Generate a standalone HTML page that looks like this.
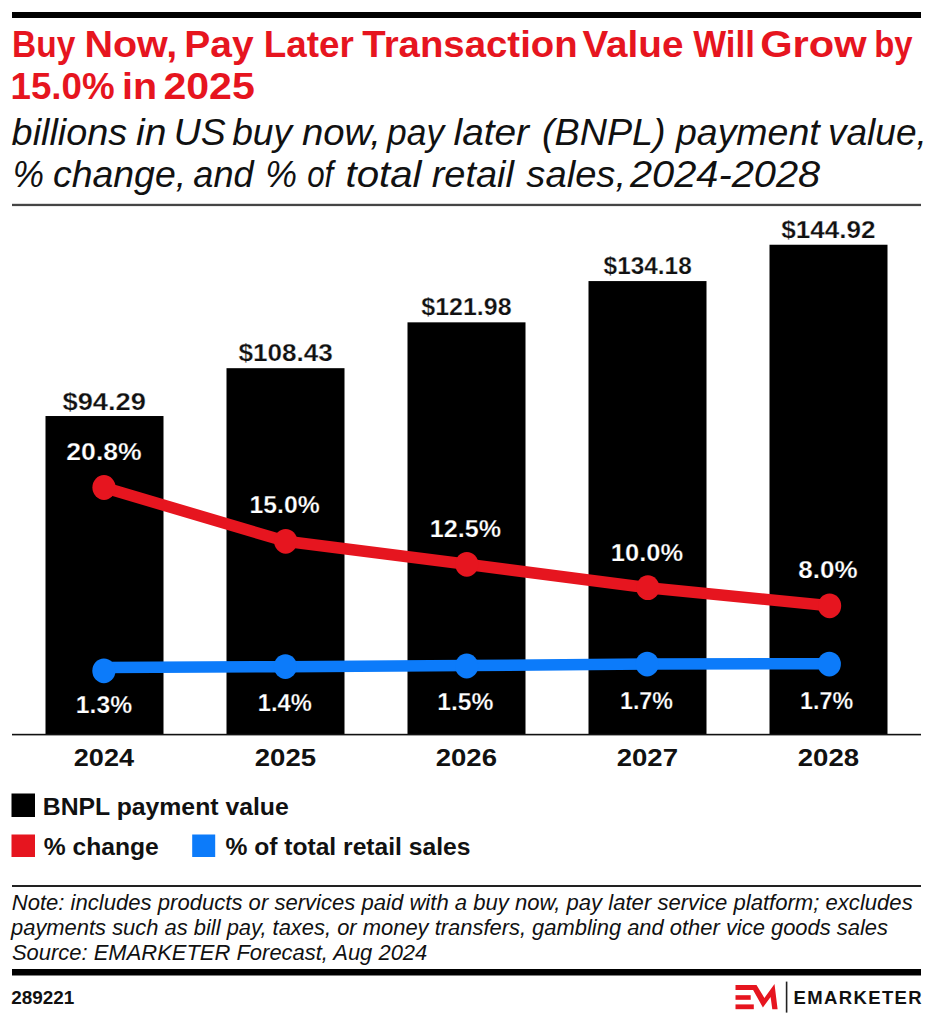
<!DOCTYPE html>
<html lang="en"><head><meta charset="utf-8"><title>Buy Now, Pay Later Transaction Value Will Grow by 15.0% in 2025</title>
<style>html,body{margin:0;padding:0;background:#fff;}body{width:937px;height:1024px;overflow:hidden;}svg{display:block;}text{font-family:"Liberation Sans",Arial,sans-serif;}</style></head><body>
<svg width="937" height="1024" viewBox="0 0 937 1024">
<rect x="0" y="0" width="937" height="1024" fill="#fff"/>
<rect x="12" y="12" width="909" height="6" fill="#000"/>
<rect x="12" y="203.8" width="909" height="2.3" fill="#454545"/>
<rect x="45.5" y="416.02" width="118" height="318.98" fill="#000"/>
<rect x="226.5" y="368.18" width="118" height="366.82" fill="#000"/>
<rect x="407.5" y="322.34" width="118" height="412.66" fill="#000"/>
<rect x="588.5" y="281.07" width="118" height="453.93" fill="#000"/>
<rect x="769.5" y="244.74" width="118" height="490.26" fill="#000"/>
<rect x="12" y="733.8" width="909" height="1.6" fill="#111"/>
<polyline points="104,487.5 285.7,541.3 466.8,564.3 647.9,587.7 829.6,605.8" fill="none" stroke="#e6151f" stroke-width="11.5" stroke-linejoin="round" stroke-linecap="round"/><ellipse cx="104" cy="487.5" rx="11.6" ry="12.4" fill="#e6151f"/><ellipse cx="285.7" cy="541.3" rx="11.6" ry="12.4" fill="#e6151f"/><ellipse cx="466.8" cy="564.3" rx="11.6" ry="12.4" fill="#e6151f"/><ellipse cx="647.9" cy="587.7" rx="11.6" ry="12.4" fill="#e6151f"/><ellipse cx="829.6" cy="605.8" rx="11.6" ry="12.4" fill="#e6151f"/>
<polyline points="103.9,667.4 285.4,666.7 466.7,665.6 647.2,663.9 829.3,663.8" fill="none" stroke="#0c7bfa" stroke-width="11.5" stroke-linejoin="round" stroke-linecap="round"/><ellipse cx="103.9" cy="670.8" rx="11.6" ry="12.4" fill="#0c7bfa"/><ellipse cx="285.4" cy="666.6" rx="11.6" ry="12.4" fill="#0c7bfa"/><ellipse cx="466.7" cy="666" rx="11.6" ry="12.4" fill="#0c7bfa"/><ellipse cx="647.2" cy="664.1" rx="11.6" ry="12.4" fill="#0c7bfa"/><ellipse cx="829.3" cy="664.1" rx="11.6" ry="12.4" fill="#0c7bfa"/>
<rect x="11.5" y="793.5" width="23.5" height="23.5" fill="#000"/>
<rect x="11.5" y="834.5" width="23.5" height="22.5" fill="#e6151f"/>
<rect x="192.2" y="834.5" width="23" height="22.5" fill="#0c7bfa"/>
<rect x="12" y="885" width="909" height="2" fill="#222"/>
<rect x="12" y="969" width="909" height="6.5" fill="#000"/>
<g fill="#e6151f">
<path d="M735.5,985.1 L756.5,985.1 L764.4,998 L774.5,984.1 L777.6,1009.2 L772.3,1009.2 L770.6,997 L762.9,1007.6 L753.1,990 L735.5,990 Z"/>
<rect x="735.5" y="995.2" width="15.2" height="4.6"/>
<rect x="735.5" y="1004.4" width="18.3" height="4.8"/>
</g>
<rect x="785.8" y="981.6" width="1.6" height="31" fill="#222"/>
<text x="12.07" y="56.9" font-size="37.8" font-weight="bold" fill="#e6151f" textLength="63.26" lengthAdjust="spacingAndGlyphs">Buy</text>
<text x="84.47" y="56.9" font-size="37.8" font-weight="bold" fill="#e6151f" textLength="92.85" lengthAdjust="spacingAndGlyphs">Now,</text>
<text x="184.23" y="56.9" font-size="37.8" font-weight="bold" fill="#e6151f" textLength="69.35" lengthAdjust="spacingAndGlyphs">Pay</text>
<text x="263.78" y="56.9" font-size="37.8" font-weight="bold" fill="#e6151f" textLength="90.03" lengthAdjust="spacingAndGlyphs">Later</text>
<text x="362.39" y="56.9" font-size="37.8" font-weight="bold" fill="#e6151f" textLength="215.27" lengthAdjust="spacingAndGlyphs">Transaction</text>
<text x="582.41" y="56.9" font-size="37.8" font-weight="bold" fill="#e6151f" textLength="101.04" lengthAdjust="spacingAndGlyphs">Value</text>
<text x="693.31" y="56.9" font-size="37.8" font-weight="bold" fill="#e6151f" textLength="61.59" lengthAdjust="spacingAndGlyphs">Will</text>
<text x="760.24" y="56.9" font-size="37.8" font-weight="bold" fill="#e6151f" textLength="106.38" lengthAdjust="spacingAndGlyphs">Grow</text>
<text x="874.23" y="56.9" font-size="37.8" font-weight="bold" fill="#e6151f" textLength="38.44" lengthAdjust="spacingAndGlyphs">by</text>
<text x="10.51" y="98.8" font-size="37.5" font-weight="bold" fill="#e6151f" textLength="104.2" lengthAdjust="spacingAndGlyphs">15.0%</text>
<text x="122.08" y="98.8" font-size="37.5" font-weight="bold" fill="#e6151f" textLength="35.06" lengthAdjust="spacingAndGlyphs">in</text>
<text x="163.4" y="98.8" font-size="37.5" font-weight="bold" fill="#e6151f" textLength="91.41" lengthAdjust="spacingAndGlyphs">2025</text>
<text x="11.64" y="144.5" font-size="36.4" font-style="italic" fill="#111" textLength="115.5" lengthAdjust="spacingAndGlyphs">billions</text>
<text x="136.04" y="144.5" font-size="36.4" font-style="italic" fill="#111" textLength="30.36" lengthAdjust="spacingAndGlyphs">in</text>
<text x="173.72" y="144.5" font-size="36.4" font-style="italic" fill="#111" textLength="51.98" lengthAdjust="spacingAndGlyphs">US</text>
<text x="232.21" y="144.5" font-size="36.4" font-style="italic" fill="#111" textLength="59.84" lengthAdjust="spacingAndGlyphs">buy</text>
<text x="302" y="144.5" font-size="36.4" font-style="italic" fill="#111" textLength="78.79" lengthAdjust="spacingAndGlyphs">now,</text>
<text x="387.07" y="144.5" font-size="36.4" font-style="italic" fill="#111" textLength="57.02" lengthAdjust="spacingAndGlyphs">pay</text>
<text x="453.5" y="144.5" font-size="36.4" font-style="italic" fill="#111" textLength="75.55" lengthAdjust="spacingAndGlyphs">later</text>
<text x="541.99" y="144.5" font-size="36.4" font-style="italic" fill="#111" textLength="123.56" lengthAdjust="spacingAndGlyphs">(BNPL)</text>
<text x="675.99" y="144.5" font-size="36.4" font-style="italic" fill="#111" textLength="143.65" lengthAdjust="spacingAndGlyphs">payment</text>
<text x="827.92" y="144.5" font-size="36.4" font-style="italic" fill="#111" textLength="98.95" lengthAdjust="spacingAndGlyphs">value,</text>
<text x="12.82" y="186.5" font-size="36.4" font-style="italic" fill="#111" textLength="31.24" lengthAdjust="spacingAndGlyphs">%</text>
<text x="52.95" y="186.5" font-size="36.4" font-style="italic" fill="#111" textLength="133.22" lengthAdjust="spacingAndGlyphs">change,</text>
<text x="193.33" y="186.5" font-size="36.4" font-style="italic" fill="#111" textLength="60.24" lengthAdjust="spacingAndGlyphs">and</text>
<text x="265.36" y="186.5" font-size="36.4" font-style="italic" fill="#111" textLength="31.78" lengthAdjust="spacingAndGlyphs">%</text>
<text x="307.21" y="186.5" font-size="36.4" font-style="italic" fill="#111" textLength="26.08" lengthAdjust="spacingAndGlyphs">of</text>
<text x="345.48" y="186.5" font-size="36.4" font-style="italic" fill="#111" textLength="76.04" lengthAdjust="spacingAndGlyphs">total</text>
<text x="431.67" y="186.5" font-size="36.4" font-style="italic" fill="#111" textLength="82.33" lengthAdjust="spacingAndGlyphs">retail</text>
<text x="526.38" y="186.5" font-size="36.4" font-style="italic" fill="#111" textLength="99.68" lengthAdjust="spacingAndGlyphs">sales,</text>
<text x="630" y="186.5" font-size="36.4" font-style="italic" fill="#111" textLength="190.18" lengthAdjust="spacingAndGlyphs">2024-2028</text>
<text x="62.49" y="409.6" font-size="23.2" font-weight="bold" fill="#111" stroke="#fff" stroke-width="0.25" textLength="83.43" lengthAdjust="spacingAndGlyphs">$94.29</text>
<text x="238.48" y="360.7" font-size="23.2" font-weight="bold" fill="#111" stroke="#fff" stroke-width="0.25" textLength="94.3" lengthAdjust="spacingAndGlyphs">$108.43</text>
<text x="421.34" y="315.4" font-size="23.2" font-weight="bold" fill="#111" stroke="#fff" stroke-width="0.25" textLength="90.21" lengthAdjust="spacingAndGlyphs">$121.98</text>
<text x="603.59" y="274" font-size="23.2" font-weight="bold" fill="#111" stroke="#fff" stroke-width="0.25" textLength="88.15" lengthAdjust="spacingAndGlyphs">$134.18</text>
<text x="781.3" y="237.9" font-size="23.2" font-weight="bold" fill="#111" stroke="#fff" stroke-width="0.25" textLength="94.33" lengthAdjust="spacingAndGlyphs">$144.92</text>
<text x="66.33" y="460" font-size="23.2" font-weight="bold" fill="#fff" stroke="#000" stroke-width="0.25" textLength="75.42" lengthAdjust="spacingAndGlyphs">20.8%</text>
<text x="249.54" y="512.7" font-size="23.2" font-weight="bold" fill="#fff" stroke="#000" stroke-width="0.25" textLength="70.21" lengthAdjust="spacingAndGlyphs">15.0%</text>
<text x="429.77" y="536.8" font-size="23.2" font-weight="bold" fill="#fff" stroke="#000" stroke-width="0.25" textLength="71.22" lengthAdjust="spacingAndGlyphs">12.5%</text>
<text x="610.81" y="560.8" font-size="23.2" font-weight="bold" fill="#fff" stroke="#000" stroke-width="0.25" textLength="72.24" lengthAdjust="spacingAndGlyphs">10.0%</text>
<text x="798.38" y="578.3" font-size="23.2" font-weight="bold" fill="#fff" stroke="#000" stroke-width="0.25" textLength="59.32" lengthAdjust="spacingAndGlyphs">8.0%</text>
<text x="75.88" y="713.3" font-size="23.2" font-weight="bold" fill="#fff" stroke="#000" stroke-width="0.25" textLength="56.23" lengthAdjust="spacingAndGlyphs">1.3%</text>
<text x="257.75" y="710.5" font-size="23.2" font-weight="bold" fill="#fff" stroke="#000" stroke-width="0.25" textLength="54.09" lengthAdjust="spacingAndGlyphs">1.4%</text>
<text x="437.23" y="710" font-size="23.2" font-weight="bold" fill="#fff" stroke="#000" stroke-width="0.25" textLength="56.27" lengthAdjust="spacingAndGlyphs">1.5%</text>
<text x="619.96" y="709.1" font-size="23.2" font-weight="bold" fill="#fff" stroke="#000" stroke-width="0.25" textLength="53.08" lengthAdjust="spacingAndGlyphs">1.7%</text>
<text x="800.08" y="709.1" font-size="23.2" font-weight="bold" fill="#fff" stroke="#000" stroke-width="0.25" textLength="53.11" lengthAdjust="spacingAndGlyphs">1.7%</text>
<text x="73.75" y="765.5" font-size="23.7" font-weight="bold" fill="#111" textLength="60.29" lengthAdjust="spacingAndGlyphs">2024</text>
<text x="254.73" y="765.5" font-size="23.7" font-weight="bold" fill="#111" textLength="61.35" lengthAdjust="spacingAndGlyphs">2025</text>
<text x="435.73" y="765.5" font-size="23.7" font-weight="bold" fill="#111" textLength="61.31" lengthAdjust="spacingAndGlyphs">2026</text>
<text x="616.73" y="765.5" font-size="23.7" font-weight="bold" fill="#111" textLength="61.31" lengthAdjust="spacingAndGlyphs">2027</text>
<text x="797.73" y="765.5" font-size="23.7" font-weight="bold" fill="#111" textLength="61.35" lengthAdjust="spacingAndGlyphs">2028</text>
<text x="42.79" y="814.6" font-size="24.7" font-weight="bold" fill="#111" textLength="245.98" lengthAdjust="spacingAndGlyphs">BNPL payment value</text>
<text x="43.78" y="855.2" font-size="24.7" font-weight="bold" fill="#111" textLength="114.98" lengthAdjust="spacingAndGlyphs">% change</text>
<text x="225.4" y="855.2" font-size="24.7" font-weight="bold" fill="#111" textLength="245" lengthAdjust="spacingAndGlyphs">% of total retail sales</text>
<text x="11.71" y="909.9" font-size="22.2" font-style="italic" fill="#111" textLength="900.99" lengthAdjust="spacingAndGlyphs">Note: includes products or services paid with a buy now, pay later service platform; excludes</text>
<text x="11" y="935.2" font-size="22.2" font-style="italic" fill="#111" textLength="876.98" lengthAdjust="spacingAndGlyphs">payments such as bill pay, taxes, or money transfers, gambling and other vice goods sales</text>
<text x="11.91" y="959.9" font-size="22.2" font-style="italic" fill="#111" textLength="415.39" lengthAdjust="spacingAndGlyphs">Source: EMARKETER Forecast, Aug 2024</text>
<text x="11.15" y="1003.8" font-size="18.6" font-weight="bold" fill="#111" textLength="63.11" lengthAdjust="spacingAndGlyphs">289221</text>
<text x="793.46" y="1004" font-size="18.5" font-weight="bold" fill="#111" textLength="128.23" lengthAdjust="spacing">EMARKETER</text>
</svg></body></html>
